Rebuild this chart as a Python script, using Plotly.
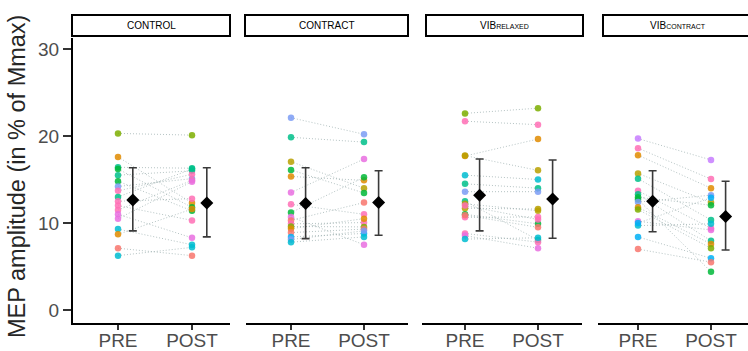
import plotly.graph_objects as go

# ---------------- data ----------------
panel_names = ["CONTROL", "CONTRACT", "VIB<span style='font-size:7px'>RELAXED</span>",
               "VIB<span style='font-size:7px'>CONTRACT</span>"]
tick_labels = ["PRE", "POST"]

control_pre = [20.3, 17.6, 16.4, 16.2, 15.5, 14.8, 14.2, 13.7, 13.0, 12.5, 12.0, 11.5, 11.0, 10.5, 9.3, 8.7, 7.1, 6.25]
control_post = [20.1, 12.3, 16.3, 11.8, 16.0, 11.4, 15.1, 15.6, 16.2, 12.8, 10.3, 14.9, 8.3, 14.75, 7.5, 11.6, 6.25, 7.2]
control_col = ["olivegreen", "orange", "teal", "green", "teal", "green", "blue", "pink", "teal", "pink", "pink", "pink",
               "magenta", "magenta", "cyan", "orange", "salmon", "cyan"]

contract_pre = [22.1, 19.85, 17.05, 16.1, 15.35, 13.5, 12.15, 11.2, 10.7, 10.3, 9.9, 9.6, 9.35, 8.9, 8.4, 8.1, 7.8]
contract_post = [20.2, 19.3, 14.0, 13.45, 14.9, 17.35, 11.0, 15.25, 7.5, 12.35, 10.05, 9.55, 10.5, 9.3, 8.8, 9.1, 8.4]
contract_col = ["blue", "teal", "olive", "green", "orange", "magenta", "pink", "green", "magenta", "salmon", "pink",
                "olivegreen", "orange", "salmon", "skyblue", "blue", "cyan"]

vibrel_pre = [22.6, 21.7, 17.7, 17.75, 15.5, 14.5, 13.6, 12.5, 12.2, 11.7, 11.0, 10.65, 10.9, 12.0, 8.8, 8.55, 8.15]
vibrel_post = [23.2, 21.3, 19.65, 16.05, 15.0, 14.0, 13.6, 8.05, 11.4, 11.6, 9.9, 10.7, 9.5, 10.4, 7.8, 7.1, 8.3]
vibrel_col = ["olivegreen", "pink", "orange", "olive", "cyan", "teal", "blue", "teal", "olive", "olive", "green",
              "pink", "salmon", "pink", "pink", "magenta", "cyan"]

vibcon_pre = [19.7, 18.6, 17.8, 15.7, 15.1, 13.7, 13.3, 12.95, 12.7, 12.4, 11.8, 11.55, 10.2, 9.7, 10.0, 8.4, 7.0]
vibcon_post = [17.25, 15.05, 14.0, 12.35, 10.35, 9.4, 7.95, 12.05, 4.4, 13.2, 7.6, 7.1, 9.2, 9.9, 12.9, 5.95, 5.5]
vibcon_col = ["purple", "pink", "orange", "olive", "teal", "pink", "teal", "green", "green", "blue", "orange",
              "olivegreen", "magenta", "cyan", "skyblue", "skyblue", "salmon"]

mean_pre = [12.64, 12.25, 13.2, 12.5]
mean_post = [12.3, 12.35, 12.75, 10.75]
err_pre_hi = [16.35, 16.35, 17.35, 16.0]
err_pre_lo = [9.1, 8.2, 9.1, 9.0]
err_post_hi = [16.35, 16.0, 17.25, 14.8]
err_post_lo = [8.4, 8.6, 8.25, 6.9]

# ---------------- styling ----------------
palette = {"salmon": "#F8766D", "orange": "#E08B00", "olive": "#B9A000", "olivegreen": "#7CAE00",
           "green": "#00B83A", "teal": "#00BF8A", "cyan": "#00BCD0", "skyblue": "#00B0F6",
           "blue": "#7B9CF5", "purple": "#C77CFF", "magenta": "#E96FE0", "pink": "#FF6FB5"}

W, H = 748, 351
ML, MR, MT, MB = 73, 0, 38, 28
PW, PH = W - ML - MR, H - MT - MB
# panel pixel geometry: left, right, PRE pos, POST pos
geom = [(73, 230, 118, 192), (246, 408, 291, 364), (422, 582, 465, 538), (598, 748, 638, 711)]
strips = [(72, 230), (245, 408), (426, 583), (603, 752)]

panels = [(control_pre, control_post, control_col), (contract_pre, contract_post, contract_col),
          (vibrel_pre, vibrel_post, vibrel_col), (vibcon_pre, vibcon_post, vibcon_col)]

fig = go.Figure()
for i, (pre, post, col) in enumerate(panels):
    xa = "x" if i == 0 else f"x{i+1}"
    lx, ly = [], []
    for a, b in zip(pre, post):
        lx += [1, 2, None]
        ly += [a, b, None]
    fig.add_trace(go.Scatter(x=lx, y=ly, xaxis=xa, yaxis="y", mode="lines",
                             line=dict(color="rgba(150,170,170,0.7)", width=1, dash="1px,2px"),
                             showlegend=False, hoverinfo="skip"))
    cols = [palette[c] for c in col]
    fig.add_trace(go.Scatter(x=[1] * len(pre) + [2] * len(post), y=pre + post, xaxis=xa, yaxis="y",
                             mode="markers", marker=dict(size=6.5, color=cols + cols, opacity=0.85),
                             showlegend=False))
    fig.add_trace(go.Scatter(x=[1.2, 2.2], y=[mean_pre[i], mean_post[i]], xaxis=xa, yaxis="y",
                             mode="markers",
                             marker=dict(symbol="diamond", size=10, color="black"),
                             error_y=dict(type="data", symmetric=False,
                                          array=[err_pre_hi[i] - mean_pre[i], err_post_hi[i] - mean_post[i]],
                                          arrayminus=[mean_pre[i] - err_pre_lo[i], mean_post[i] - err_post_lo[i]],
                                          color="#3a3a3a", thickness=1.6, width=4),
                             showlegend=False))

layout = dict(width=W, height=H, paper_bgcolor="white", plot_bgcolor="white",
              margin=dict(l=ML, r=MR, t=MT, b=MB), showlegend=False,
              font=dict(family="Liberation Sans, Arial, sans-serif"))

for i, (L, R, pp, pq) in enumerate(geom):
    s = pq - pp
    lo = 1 - (pp - L) / s
    hi = 2 + (R - pq) / s
    key = "xaxis" if i == 0 else f"xaxis{i+1}"
    layout[key] = dict(domain=[(L - ML) / PW, min(1, (R - ML) / PW)], range=[lo, hi], anchor="y",
                       tickvals=[1, 2], ticktext=tick_labels, showgrid=False, zeroline=False,
                       showline=True, linecolor="black", linewidth=2,
                       ticks="outside", ticklen=5, tickwidth=1.5, tickcolor="#333",
                       ticklabelstandoff=-6, automargin=False,
                       tickfont=dict(size=19, color="#4D4D4D"))

y0_px, y30_px = 310, 49
ppu = (y0_px - y30_px) / 30
ylo = -(H - MB - y0_px) / ppu
yhi = (y0_px - MT) / ppu
layout["yaxis"] = dict(domain=[0, 1], range=[ylo, yhi], anchor="x", tickvals=[0, 10, 20, 30],
                       showgrid=False, zeroline=False, showline=True, linecolor="black", linewidth=2,
                       ticks="outside", ticklen=8, tickwidth=1.5, tickcolor="#333",
                       ticklabelstandoff=0, automargin=False,
                       tickfont=dict(size=19, color="#4D4D4D"))

shapes, annots = [], []
for i, (a, b) in enumerate(strips):
    x0 = (a - ML) / PW
    x1 = (b - ML) / PW
    y0 = (H - MB - 36) / PH
    y1 = (H - MB - 15) / PH
    shapes.append(dict(type="rect", xref="paper", yref="paper", x0=x0, x1=x1, y0=y0, y1=y1,
                       line=dict(color="black", width=2), fillcolor="white"))
    annots.append(dict(xref="paper", yref="paper", x=(x0 + x1) / 2,
                       y=(y0 + y1) / 2, text=panel_names[i], showarrow=False,
                       font=dict(size=10, color="black"), xanchor="center", yanchor="middle"))
annots.append(dict(xref="paper", yref="paper", x=(17 - ML) / PW, y=(H - MB - 177) / PH,
                   text="MEP amplitude (in % of Mmax)", textangle=-90, showarrow=False,
                   font=dict(size=23.5, color="#262626"), xanchor="center", yanchor="middle"))
layout["shapes"] = shapes
layout["annotations"] = annots
fig.update_layout(**layout)
fig.write_html("out.html", config={"displayModeBar": False},
               post_script="document.body.style.margin='0';document.body.style.overflow='hidden';")
